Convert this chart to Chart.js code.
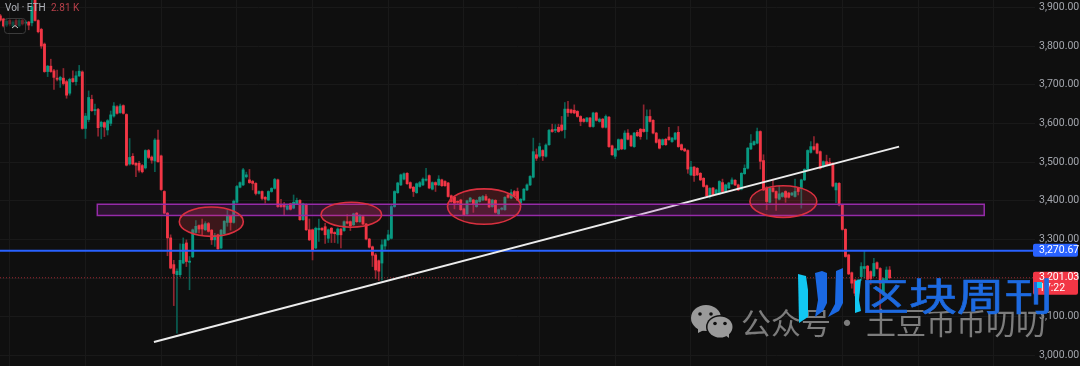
<!DOCTYPE html>
<html>
<head>
<meta charset="utf-8">
<title>ETH</title>
<script src="https://cdn.jsdelivr.net/npm/chart.js@4/dist/chart.umd.min.js"></script>
<style>
html, body { margin: 0; padding: 0; background: #0f0f0f; overflow: hidden; }
canvas { display: block; }
</style>
</head>
<body>
<canvas id="chartCanvas" width="1080" height="366"></canvas>
<script>
// ETH candles
const opens = [
3878,3870,3854,3866,3852,3866,3852,3866,3859,3862,
3860,3919,3866,3843,3805,3734,3748,3736,3717,3712,
3717,3708,3678,3716,3708,3723,3733,3587,3610,3662,
3633,3636,3592,3602,3583,3600,3619,3643,3628,3646,
3623,3495,3515,3497,3497,3491,3485,3530,3513,3503,
3557,3516,3424,3368,3304,3235,3209,3209,3239,3291,
3241,3255,3318,3336,3338,3325,3341,3324,3299,3312,
3278,3315,3344,3360,3344,3396,3435,3441,3462,3454,
3450,3445,3419,3424,3409,3402,3424,3432,3454,3390,
3390,3378,3392,3381,3392,3401,3351,3390,3325,3325,
3278,3325,3329,3333,3303,3329,3318,3312,3327,3323,
3346,3346,3338,3368,3346,3359,3340,3301,3281,3260,
3245,3239,3283,3299,3303,3385,3421,3441,3456,3471,
3447,3435,3421,3437,3441,3453,3465,3430,3447,3441,
3454,3450,3446,3413,3409,3398,3402,3379,3366,3398,
3402,3385,3398,3402,3411,3404,3385,3401,3366,3378,
3377,3415,3407,3424,3424,3394,3402,3428,3441,3461,
3519,3515,3530,3515,3545,3584,3582,3590,3596,3584,
3637,3635,3634,3631,3618,3611,3605,3614,3592,3627,
3605,3611,3590,3616,3542,3515,3532,3558,3534,3575,
3568,3540,3577,3585,3585,3579,3618,3608,3575,3558,
3545,3559,3565,3553,3559,3577,3545,3534,3530,3467,
3487,3484,3471,3458,3439,3413,3433,3418,3418,3447,
3424,3433,3444,3453,3441,3430,3470,3484,3534,3545,
3549,3579,3504,3433,3396,3433,3424,3404,3411,3424,
3420,3415,3411,3433,3432,3454,3481,3525,3540,3547,
3527,3488,3501,3499,3497,3428,3445,3389,3326,3260,
3214,3195,3161,3204,3225,3231,3217,3206,3240,3225,
3161,3195,3221
];
const closes = [
3867,3852,3864,3857,3862,3854,3866,3857,3862,3854,
3902,3866,3837,3800,3734,3748,3734,3719,3714,3719,
3703,3673,3714,3708,3723,3735,3587,3619,3667,3633,
3636,3589,3603,3590,3607,3622,3645,3626,3645,3626,
3492,3512,3495,3492,3479,3475,3530,3512,3505,3557,
3501,3429,3368,3304,3226,3212,3218,3246,3288,3243,
3244,3325,3334,3327,3327,3341,3321,3299,3310,3276,
3324,3347,3360,3344,3399,3437,3447,3480,3467,3447,
3445,3419,3424,3406,3404,3424,3432,3455,3385,3385,
3384,3387,3378,3396,3401,3351,3392,3325,3299,3273,
3329,3329,3325,3312,3325,3316,3315,3327,3312,3346,
3342,3335,3366,3346,3361,3340,3301,3280,3259,3221,
3218,3286,3299,3312,3385,3424,3446,3467,3470,3444,
3433,3424,3444,3447,3456,3456,3433,3447,3441,3456,
3439,3439,3411,3398,3394,3396,3377,3364,3400,3407,
3390,3401,3409,3411,3402,3384,3402,3370,3377,3381,
3409,3409,3421,3413,3402,3404,3430,3441,3463,3527,
3510,3540,3516,3544,3582,3579,3584,3579,3582,3637,
3628,3628,3627,3618,3605,3605,3614,3592,3627,3608,
3611,3590,3618,3540,3519,3534,3558,3534,3575,3559,
3542,3575,3568,3566,3579,3618,3605,3575,3551,3536,
3558,3545,3558,3562,3575,3540,3532,3529,3482,3487,
3465,3467,3454,3437,3413,3432,3415,3428,3450,3424,
3441,3446,3454,3441,3428,3471,3484,3536,3549,3553,
3579,3502,3428,3398,3433,3424,3407,3418,3420,3409,
3409,3420,3424,3424,3454,3481,3530,3540,3533,3523,
3484,3501,3493,3493,3438,3445,3389,3326,3256,3211,
3187,3161,3195,3230,3230,3197,3199,3238,3225,3187,
3199,3221,3201.03
];
const highs = [
3882,3872,3870,3870,3866,3870,3870,3869,3866,3864,
3919,3924,3868,3846,3808,3750,3766,3740,3738,3722,
3742,3712,3717,3736,3734,3750,3736,3626,3684,3673,
3650,3639,3606,3604,3610,3632,3654,3646,3650,3648,
3625,3561,3522,3499,3502,3494,3532,3533,3516,3561,
3583,3518,3426,3370,3312,3246,3224,3289,3304,3299,
3256,3327,3349,3338,3353,3346,3344,3326,3316,3314,
3326,3349,3375,3362,3402,3440,3449,3484,3474,3481,
3453,3447,3426,3426,3411,3426,3434,3458,3456,3404,
3396,3390,3394,3415,3407,3403,3394,3392,3353,3327,
3332,3353,3331,3342,3327,3331,3320,3330,3329,3348,
3364,3348,3368,3370,3364,3361,3342,3303,3283,3264,
3247,3299,3301,3324,3390,3426,3448,3469,3472,3473,
3449,3437,3446,3450,3459,3484,3467,3449,3449,3465,
3456,3452,3448,3415,3411,3400,3404,3381,3402,3409,
3404,3403,3411,3414,3416,3406,3404,3403,3379,3383,
3411,3417,3429,3427,3433,3406,3432,3444,3465,3562,
3534,3549,3532,3547,3585,3598,3597,3598,3618,3654,
3657,3637,3648,3633,3620,3613,3616,3616,3629,3629,
3614,3613,3622,3618,3544,3536,3560,3560,3581,3584,
3570,3577,3582,3587,3648,3635,3635,3610,3577,3560,
3560,3561,3590,3564,3577,3592,3547,3536,3532,3502,
3489,3486,3473,3460,3441,3434,3435,3430,3452,3456,
3443,3448,3459,3455,3443,3473,3493,3538,3571,3555,
3588,3581,3519,3437,3435,3456,3426,3439,3422,3426,
3422,3422,3456,3435,3456,3483,3532,3553,3566,3549,
3529,3503,3518,3510,3499,3447,3447,3391,3328,3262,
3216,3197,3197,3240,3271,3233,3219,3251,3242,3227,
3201,3229,3230
];
const lows = [
3864,3849,3850,3852,3849,3850,3849,3854,3854,3842,
3852,3864,3834,3794,3732,3721,3732,3688,3710,3693,
3699,3665,3673,3706,3699,3721,3585,3561,3604,3631,
3622,3567,3560,3566,3570,3594,3616,3624,3626,3624,
3490,3492,3493,3462,3474,3472,3482,3509,3497,3475,
3499,3427,3366,3258,3224,3129,3058,3204,3237,3230,
3170,3253,3316,3317,3312,3323,3319,3287,3282,3274,
3276,3313,3334,3324,3342,3394,3433,3439,3459,3445,
3428,3415,3417,3402,3394,3400,3422,3430,3383,3383,
3364,3376,3376,3379,3390,3349,3349,3323,3297,3247,
3276,3295,3323,3290,3292,3292,3292,3290,3278,3321,
3340,3323,3336,3344,3344,3338,3299,3278,3230,3199,
3194,3195,3274,3297,3301,3383,3419,3439,3454,3442,
3431,3411,3419,3435,3439,3451,3431,3428,3424,3439,
3437,3437,3409,3396,3379,3392,3375,3362,3364,3396,
3370,3383,3396,3400,3400,3382,3383,3368,3362,3376,
3375,3407,3405,3411,3400,3392,3400,3426,3439,3459,
3504,3512,3504,3513,3543,3577,3576,3577,3580,3562,
3618,3626,3625,3616,3594,3603,3603,3590,3590,3606,
3603,3588,3588,3538,3517,3509,3530,3532,3532,3557,
3540,3538,3566,3559,3577,3559,3603,3573,3549,3534,
3543,3543,3556,3551,3557,3538,3530,3527,3471,3465,
3450,3465,3452,3435,3411,3407,3413,3416,3416,3422,
3422,3431,3442,3439,3426,3428,3468,3482,3532,3543,
3547,3482,3426,3377,3394,3422,3375,3402,3409,3396,
3407,3413,3409,3415,3381,3452,3479,3523,3531,3521,
3482,3486,3491,3491,3436,3395,3387,3324,3254,3209,
3174,3154,3159,3194,3200,3195,3184,3204,3223,3109,
3154,3193,3198
];

// Price levels and drawings, in bars and prices
const supportPrice = 3270.67;
const lastPrice = 3201.03;
const lastCountdown = '17:22';
const trendBars = [45.7, 282];
const trendPrices = [3035, 3540];
const zoneBars = [27.75, 309];
const zonePrices = [3362, 3391];
const ringBars = [63.9, 108.3, 150.4, 245.3];
const ringPrices = [3346, 3364, 3385, 3398];
const ringWidths = [10.15, 9.6, 11.6, 10.6];
const ringHeights = [38, 32.3, 45.8, 40.9];

const priceTicks = [3000, 3100, 3200, 3300, 3400, 3500, 3600, 3700, 3800, 3900];
const barStart = -3;
const xMin = -3.108, xMax = 325.1;
const yMin = 2972.9, yMax = 3919;

const UP = '#089981', DOWN = '#f23645';
const UP_WICK = '#0a5f53', DOWN_WICK = '#8f2530';

function money(v) {
    return v.toLocaleString('en-US', { minimumFractionDigits: 2, maximumFractionDigits: 2 });
}

const isUp = closes.map((c, i) => c >= opens[i]);
const wickData = highs.map((h, i) => ({ x: i + barStart, y: [lows[i], h] }));
const bodyData = closes.map((c, i) => ({ x: i + barStart, y: [opens[i], c] }));

// Zone + ellipses, on top of the candles
const drawingsPlugin = {
    id: 'drawings',
    afterDatasetsDraw(chart) {
        const ctx = chart.ctx, x = chart.scales.x, y = chart.scales.y;
        ctx.save();
        const zx0 = x.getPixelForValue(zoneBars[0]), zx1 = x.getPixelForValue(zoneBars[1]);
        const zy0 = y.getPixelForValue(zonePrices[1]), zy1 = y.getPixelForValue(zonePrices[0]);
        ctx.fillStyle = 'rgba(156,39,176,0.2)';
        ctx.strokeStyle = '#962ba9';
        ctx.lineWidth = 1.5;
        ctx.fillRect(zx0, zy0, zx1 - zx0, zy1 - zy0);
        ctx.strokeRect(zx0, zy0, zx1 - zx0, zy1 - zy0);

        ringBars.forEach((bar, i) => {
            const cx = x.getPixelForValue(bar), cy = y.getPixelForValue(ringPrices[i]);
            const rx = x.getPixelForValue(bar + ringWidths[i]) - cx;
            const ry = cy - y.getPixelForValue(ringPrices[i] + ringHeights[i]);
            ctx.beginPath();
            ctx.ellipse(cx, cy, rx, ry, 0, 0, Math.PI * 2);
            ctx.fillStyle = 'rgba(242,54,69,0.2)';
            ctx.fill();
            ctx.strokeStyle = '#d9303f';
            ctx.lineWidth = 1.6;
            ctx.stroke();
        });
        ctx.restore();
    },
    afterDraw(chart) {
        const ctx = chart.ctx, y = chart.scales.y;
        ctx.save();
        // price tags
        ctx.textBaseline = 'middle';
        ctx.textAlign = 'left';
        ctx.font = '10.5px Roboto';
        const ySupport = y.getPixelForValue(supportPrice);
        ctx.fillStyle = '#2962ff';
        ctx.beginPath();
        ctx.roundRect(1033, ySupport - 7, 45, 13, 2);
        ctx.fill();
        ctx.fillStyle = '#ffffff';
        ctx.fillText(money(supportPrice), 1039, ySupport - 0.5);

        const yLast = y.getPixelForValue(lastPrice);
        ctx.fillStyle = DOWN;
        ctx.beginPath();
        ctx.roundRect(1033, yLast - 6, 45, 23, 2);
        ctx.fill();
        ctx.fillStyle = '#ffffff';
        ctx.fillText(money(lastPrice), 1039, yLast);
        ctx.fillText(lastCountdown, 1039, yLast + 10.5);

        // header
        ctx.font = '10px Roboto';
        ctx.fillStyle = '#b2b5bc';
        ctx.fillText('Vol · ETH', 5, 8.5);
        ctx.fillStyle = '#b8404a';
        ctx.fillText('2.81 K', 51, 8.5);
        ctx.beginPath();
        ctx.roundRect(4.5, 18.5, 21, 15, 3);
        ctx.fillStyle = 'rgba(15,15,15,0.55)';
        ctx.fill();
        ctx.strokeStyle = '#3b3b3b';
        ctx.lineWidth = 1;
        ctx.stroke();
        ctx.beginPath();
        ctx.moveTo(12, 28);
        ctx.lineTo(15, 25.5);
        ctx.lineTo(18, 28);
        ctx.strokeStyle = '#c8c8c8';
        ctx.stroke();

        drawWatermark(ctx);
        ctx.restore();
    }
};

function polygon(ctx, color, pts) {
    ctx.fillStyle = color;
    ctx.beginPath();
    pts.forEach((p, i) => i ? ctx.lineTo(p[0], p[1]) : ctx.moveTo(p[0], p[1]));
    ctx.closePath();
    ctx.fill();
}

function drawWatermark(ctx) {
    // wechat icon
    ctx.fillStyle = '#9a9a9a';
    ctx.beginPath(); ctx.ellipse(706, 318, 15, 13, 0, 0, Math.PI * 2); ctx.fill();
    polygon(ctx, '#9a9a9a', [[698, 328], [698, 333], [704, 330]]);
    ctx.fillStyle = '#0f0f0f';
    ctx.beginPath(); ctx.ellipse(720, 327, 14, 12, 0, 0, Math.PI * 2); ctx.fill();
    ctx.fillStyle = '#9a9a9a';
    ctx.beginPath(); ctx.ellipse(720, 327, 12.5, 10.5, 0, 0, Math.PI * 2); ctx.fill();
    polygon(ctx, '#9a9a9a', [[725, 335], [729, 338], [729, 333]]);
    ctx.fillStyle = '#0f0f0f';
    [[700, 314], [711, 314], [715, 323.5], [725, 323.5]].forEach(p => {
        ctx.beginPath(); ctx.arc(p[0], p[1], 1.8, 0, Math.PI * 2); ctx.fill();
    });

    // grey line
    ctx.fillStyle = '#7c7c7c';
    ctx.textBaseline = 'alphabetic';
    ctx.textAlign = 'left';
    ctx.font = '30px "Noto Sans CJK SC"';
    ctx.fillText('公众号', 741, 334);
    ctx.fillText('·', 832, 334);
    ctx.fillText('土豆币币叨叨', 866, 334);

    // logo blades
    polygon(ctx, '#12c7f2', [[798, 274], [806, 276], [808, 290], [808, 317], [799, 323]]);
    polygon(ctx, '#1a68e2', [[815, 273], [822, 271], [827, 273], [827, 303], [823, 311], [815, 317], [818, 300]]);
    polygon(ctx, '#1a68e2', [[836, 271], [843, 268], [843, 303], [839, 311], [828, 317], [835, 304]]);
    polygon(ctx, '#12c7f2', [[855, 281], [861, 279], [859, 300], [861, 311], [855, 313]]);

    // blue title, wider than the font is
    ctx.save();
    ctx.fillStyle = '#1d6ae0';
    ctx.strokeStyle = '#1d6ae0';
    ctx.lineWidth = 0.6;
    ctx.font = '38px "Noto Sans CJK SC"';
    ctx.translate(861, 310);
    ctx.scale(1.26, 1);
    ctx.fillText('区块周刊', 0, 0);
    ctx.strokeText('区块周刊', 0, 0);
    ctx.restore();
    ctx.fillStyle = '#12c7f2';
    ctx.fillRect(1037, 282, 5, 6);
}

const chart = new Chart(document.getElementById('chartCanvas'), {
    type: 'bar',
    data: {
        datasets: [
            {
                type: 'line', label: 'Trend', order: 0,
                data: trendBars.map((b, i) => ({ x: b, y: trendPrices[i] })),
                borderColor: '#ececec', borderWidth: 2, pointRadius: 0
            },
            {
                type: 'line', label: 'Support', order: 1,
                data: [{ x: xMin, y: supportPrice }, { x: xMax, y: supportPrice }],
                borderColor: '#2962ff', borderWidth: 2, pointRadius: 0
            },
            {
                type: 'line', label: 'Last', order: 2,
                data: [{ x: xMin, y: lastPrice }, { x: xMax, y: lastPrice }],
                borderColor: 'rgba(242,54,69,0.6)', borderWidth: 1, borderDash: [1, 2], pointRadius: 0
            },
            {
                label: 'Body', order: 3, grouped: false,
                data: bodyData,
                backgroundColor: isUp.map(u => u ? UP : DOWN),
                barThickness: 2.2, minBarLength: 1
            },
            {
                label: 'Wick', order: 4, grouped: false,
                data: wickData,
                backgroundColor: isUp.map(u => u ? UP_WICK : DOWN_WICK),
                barThickness: 1
            }
        ]
    },
    options: {
        responsive: false,
        animation: false,
        layout: { padding: 0 },
        plugins: { legend: { display: false }, title: { display: false }, tooltip: { enabled: false } },
        scales: {
            x: {
                type: 'linear', min: xMin, max: xMax, offset: false,
                afterFit(scale) { scale.height = 0; },
                grid: { color: '#191919', drawTicks: false, offset: false },
                border: { display: false },
                ticks: { display: false, stepSize: 24, includeBounds: false, autoSkip: false }
            },
            y: {
                position: 'right', min: yMin, max: yMax,
                afterFit(scale) { scale.width = 45; scale.paddingTop = 0; scale.paddingBottom = 0; },
                afterBuildTicks(scale) { scale.ticks = priceTicks.map(v => ({ value: v })); },
                grid: { color: '#191919', drawTicks: false },
                border: { display: false },
                ticks: {
                    color: '#a3a6ad', padding: 4, autoSkip: false,
                    font: { family: 'Roboto', size: 10.5 },
                    callback: v => money(v)
                }
            }
        }
    },
    plugins: [drawingsPlugin, {
        id: 'background',
        beforeDraw(c) {
            c.ctx.fillStyle = '#0f0f0f';
            c.ctx.fillRect(0, 0, c.width, c.height);
        }
    }]
});
</script>
</body>
</html>
